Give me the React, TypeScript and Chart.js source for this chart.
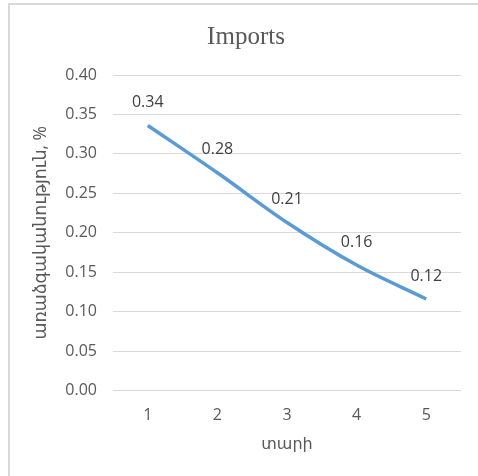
import React, { useEffect, useRef } from "react";
import { Chart, registerables } from "chart.js";

Chart.register(...registerables);

const chartTitle = "Imports";
const categories = ["1", "2", "3", "4", "5"];
const importsValues = [0.336, 0.276, 0.213, 0.159, 0.116];
const yTitle = "առաձգականություն, %";
const xTitle = "տարի";
const yMin = 0;
const yMax = 0.4;
const yStep = 0.05;

const sansFont = "'Open Sans', 'DejaVu Sans', sans-serif";

const titlePlugin = {
  id: "customTitle",
  afterDraw(chart: any) {
    const ctx = chart.ctx;
    ctx.save();
    ctx.font = "25px 'Liberation Serif', 'DejaVu Serif', serif";
    ctx.fillStyle = "#595959";
    ctx.textAlign = "center";
    ctx.textBaseline = "alphabetic";
    ctx.fillText(chartTitle, 236, 39);
    ctx.restore();
  },
};

const dataLabelPlugin = {
  id: "dataLabels",
  afterDatasetsDraw(chart: any) {
    const ctx = chart.ctx;
    const meta = chart.getDatasetMeta(0);
    const data = chart.data.datasets[0].data as number[];
    ctx.save();
    ctx.font = `16px ${sansFont}`;
    ctx.fillStyle = "#404040";
    ctx.textAlign = "center";
    ctx.textBaseline = "middle";
    meta.data.forEach((pt: any, i: number) => {
      ctx.fillText(data[i].toFixed(2), pt.x, pt.y - 23);
    });
    ctx.restore();
  },
};

export default function App() {
  const ref = useRef<HTMLCanvasElement | null>(null);

  useEffect(() => {
    if (!ref.current) return;
    const chart = new Chart(ref.current, {
      type: "line",
      data: {
        labels: categories,
        datasets: [
          {
            label: chartTitle,
            data: importsValues,
            borderColor: "#5b9bd5",
            backgroundColor: "#5b9bd5",
            borderWidth: 3.5,
            pointRadius: 0,
            tension: 0.35,
            fill: false,
          },
        ],
      },
      options: {
        responsive: false,
        animation: false,
        layout: { padding: { top: 70, right: 17, left: 0, bottom: 0 } },
        plugins: {
          legend: { display: false },
          title: { display: false },
          tooltip: { enabled: false },
        },
        scales: {
          x: {
            offset: true,
            grid: { display: false, drawTicks: false },
            border: { display: false },
            ticks: {
              color: "#595959",
              font: { family: sansFont, size: 16 },
              padding: 15,
            },
            title: {
              display: true,
              text: xTitle,
              color: "#595959",
              font: { family: sansFont, size: 16 },
              padding: { top: 0, bottom: 22 },
            },
            afterFit: (s: any) => {
              s.height = 85.5;
            },
          },
          y: {
            min: yMin,
            max: yMax,
            grid: { color: "#d9d9d9", lineWidth: 1, drawTicks: false },
            border: { display: false },
            ticks: {
              stepSize: yStep,
              color: "#595959",
              font: { family: sansFont, size: 16 },
              padding: 16,
              callback: (v: any) => Number(v).toFixed(2),
            },
            title: {
              display: true,
              text: yTitle,
              color: "#595959",
              font: { family: sansFont, size: 17.5 },
              padding: { top: 21, bottom: 0 },
            },
            afterFit: (s: any) => {
              s.width = 103;
            },
          },
        },
      },
      plugins: [titlePlugin, dataLabelPlugin],
    });
    return () => chart.destroy();
  }, []);

  return (
    <div
      style={{
        position: "absolute",
        left: 8,
        top: 3,
        width: 470,
        height: 473,
        borderLeft: "2px solid #d9d9d9",
        borderTop: "2px solid #d9d9d9",
        boxSizing: "border-box",
        background: "#fff",
      }}
    >
      <canvas ref={ref} width={468} height={471} style={{ display: "block" }} />
    </div>
  );
}
